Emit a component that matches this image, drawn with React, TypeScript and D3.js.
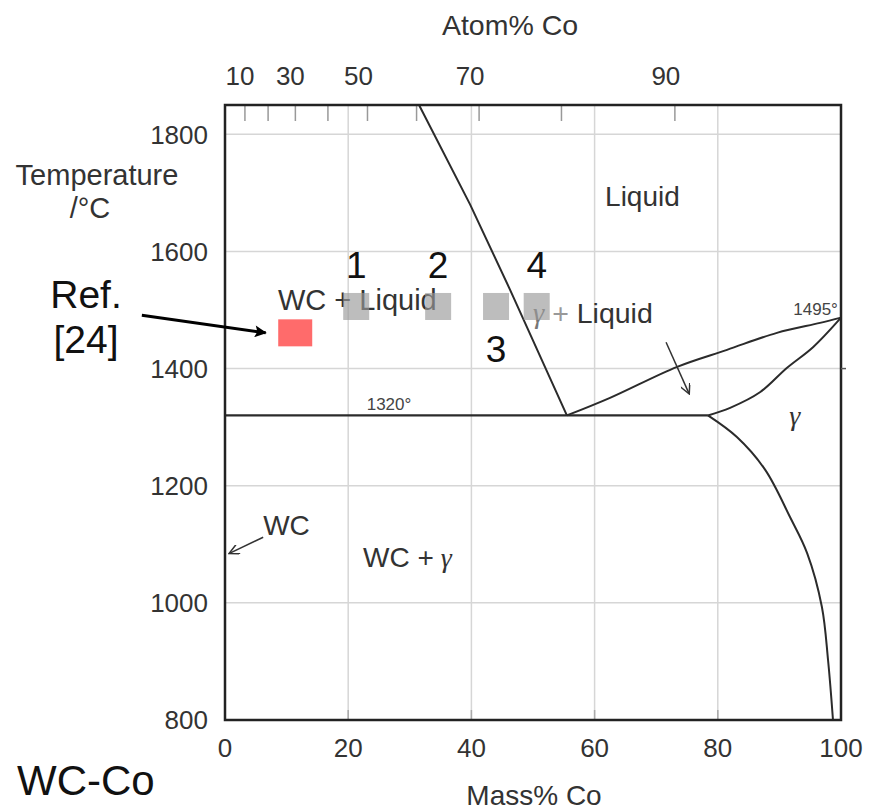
import React from 'react';
import * as d3 from 'd3';

// WC-Co phase diagram (mass% Co vs temperature)
const W = 870;
const H = 810;
const M_CO = 58.933;
const M_WC = 195.85;

const massTicks = [0, 20, 40, 60, 80, 100];
const tempTicks = [800, 1000, 1200, 1400, 1600, 1800];
const atomTicks = [10, 20, 30, 40, 50, 60, 70, 80, 90];
const atomLabels = [10, 30, 50, 70, 90];

// phase boundaries [mass% Co, °C]
const liquidusWC: [number, number][] = [[31.5, 1850], [39.8, 1680], [46.3, 1534], [55.5, 1320]];
const liquidusCo: [number, number][] = [[55.5, 1320], [62.5, 1350], [73.4, 1403], [81.5, 1432], [89.6, 1461], [96.6, 1478], [100, 1487]];
const solidus: [number, number][] = [[78.4, 1320], [82.0, 1333], [86.9, 1360], [91.2, 1401], [95.5, 1437], [100, 1487]];
const solvus: [number, number][] = [[78.4, 1320], [83.1, 1283], [87.7, 1227], [91.7, 1147], [94.5, 1085], [96.9, 993], [97.9, 902], [98.7, 800]];
const eutectic: [number, number][] = [[0, 1320], [78.4, 1320]];

// tested compositions
const sampleIds = ['1', '2', '3', '4'];
const sampleCo = [21.3, 34.6, 44.0, 50.6];
const sampleT = [1506, 1506, 1506, 1506];
const refCo = 11.4;
const refT = 1461;

const atomToMass = (a: number) => (a * M_CO) / (a * M_CO + (100 - a) * M_WC) * 100;

export default function App() {
  const x = d3.scaleLinear().domain([0, 100]).range([225, 841]);
  const y = d3.scaleLinear().domain([800, 1850]).range([720, 105]);

  const straight = d3.line<[number, number]>().x(d => x(d[0])).y(d => y(d[1]));
  const smooth = d3.line<[number, number]>().x(d => x(d[0])).y(d => y(d[1])).curve(d3.curveCatmullRom.alpha(0.5));

  const sans = 'Liberation Sans, Arial, sans-serif';
  const serif = 'Liberation Serif, Times New Roman, serif';
  const lineCol = '#2b2b2b';
  const textCol = '#333';

  return (
    <svg width={W} height={H} style={{ position: 'absolute', left: 0, top: 0, background: '#fff' }}>
      <defs>
        <marker id="solid" viewBox="0 0 10 10" refX="9" refY="5" markerWidth="14" markerHeight="12"
          markerUnits="userSpaceOnUse" orient="auto">
          <path d="M0,0 L10,5 L0,10 L2,5 z" fill="#000" />
        </marker>
        <marker id="open" viewBox="0 0 10 10" refX="9" refY="5" markerWidth="12" markerHeight="10"
          markerUnits="userSpaceOnUse" orient="auto">
          <path d="M0,0 L10,5 L0,10" fill="none" stroke="#333" strokeWidth={1.5} />
        </marker>
      </defs>

      {/* grid */}
      {massTicks.filter(t => t > 0 && t < 100).map(t => (
        <line key={'gx' + t} x1={x(t)} x2={x(t)} y1={y(1850)} y2={y(800)} stroke="#d6d6d6" strokeWidth={1.5} />
      ))}
      {massTicks.filter(t => t > 0 && t < 100).map(t => (
        <line key={'tx' + t} x1={x(t)} x2={x(t)} y1={y(800) - 10} y2={y(800)} stroke="#aaa" strokeWidth={1.5} />
      ))}
      {tempTicks.filter(t => t > 800).map(t => (
        <line key={'gy' + t} x1={x(0)} x2={x(100)} y1={y(t)} y2={y(t)} stroke="#d6d6d6" strokeWidth={1.5} />
      ))}

      {/* atom% ticks on top */}
      {atomTicks.map(a => (
        <line key={'at' + a} x1={x(atomToMass(a))} x2={x(atomToMass(a))} y1={y(1850)} y2={y(1850) + 16}
          stroke="#999" strokeWidth={1.5} />
      ))}

      {/* phase boundaries */}
      <path d={straight(liquidusWC) || ''} fill="none" stroke={lineCol} strokeWidth={2} />
      <path d={smooth(liquidusCo) || ''} fill="none" stroke={lineCol} strokeWidth={2} />
      <path d={smooth(solidus) || ''} fill="none" stroke={lineCol} strokeWidth={2} />
      <path d={smooth(solvus) || ''} fill="none" stroke={lineCol} strokeWidth={2} />
      <path d={straight(eutectic) || ''} fill="none" stroke={lineCol} strokeWidth={2.2} />

      {/* frame */}
      <rect x={x(0)} y={y(1850)} width={x(100) - x(0)} height={y(800) - y(1850)} fill="none" stroke="#222" strokeWidth={2.5} />
      <line x1={x(100)} x2={x(100) + 5} y1={y(1400)} y2={y(1400)} stroke="#555" strokeWidth={1.5} />

      {/* axis labels */}
      {tempTicks.map(t => (
        <text key={'ly' + t} x={208} y={y(t)} dy="0.36em" textAnchor="end" fontFamily={sans} fontSize={26} fill={textCol}>{t}</text>
      ))}
      {massTicks.map(t => (
        <text key={'lx' + t} x={x(t)} y={757} textAnchor="middle" fontFamily={sans} fontSize={26} fill={textCol}>{t}</text>
      ))}
      {atomLabels.map(a => (
        <text key={'la' + a} x={x(atomToMass(a)) - 5 - (a >= 50 ? 4 : 0)} y={85} textAnchor="middle" fontFamily={sans} fontSize={26} fill={textCol}>{a}</text>
      ))}
      <text x={510} y={35} textAnchor="middle" fontFamily={sans} fontSize={28.5} fill={textCol}>Atom% Co</text>
      <text x={534} y={805} textAnchor="middle" fontFamily={sans} fontSize={28} fill={textCol}>Mass% Co</text>
      <text x={97} y={185} textAnchor="middle" fontFamily={sans} fontSize={29} fill={textCol}>Temperature</text>
      <text x={90} y={218} textAnchor="middle" fontFamily={sans} fontSize={29} fill={textCol}>/°C</text>
      <text x={17} y={795} fontFamily={sans} fontSize={42} fill="#111">WC-Co</text>

      {/* region labels */}
      <text x={x(61.7)} y={y(1678)} fontFamily={sans} fontSize={28} fill={textCol}>Liquid</text>
      <text x={x(8.6)} y={y(1500)} fontFamily={sans} fontSize={29} fill={textCol}>WC + Liquid</text>
      <text x={x(50.0)} y={y(1478)} fontFamily={sans} fontSize={28.5} fill={textCol}>
        <tspan fontFamily={serif} fontStyle="italic" fill="#777">γ</tspan>
        <tspan fill="#999"> + </tspan>
        <tspan>Liquid</tspan>
      </text>
      <text x={x(91.6)} y={y(1304)} fontFamily={serif} fontStyle="italic" fontSize={28} fill={textCol}>γ</text>
      <text x={x(22.4)} y={y(1061)} fontFamily={sans} fontSize={28} fill={textCol}>
        WC +<tspan fontFamily={serif} fontStyle="italic"> γ</tspan>
      </text>
      <text x={x(6.2)} y={y(1116)} fontFamily={sans} fontSize={28} fill={textCol}>WC</text>
      <text x={x(99.5)} y={y(1491)} textAnchor="end" fontFamily={sans} fontSize={17} fill="#444">1495°</text>
      <text x={x(23)} y={y(1329)} fontFamily={sans} fontSize={17} fill="#444">1320°</text>

      {/* annotation arrows */}
      <line x1={x(71.6)} y1={y(1445)} x2={x(75.3)} y2={y(1358)} stroke="#333" strokeWidth={1.5} markerEnd="url(#open)" />
      <line x1={x(6.2)} y1={y(1112)} x2={x(0.8)} y2={y(1085)} stroke="#333" strokeWidth={1.5} markerEnd="url(#open)" />

      {/* samples */}
      {sampleIds.map((id, i) => (
        <rect key={'s' + id} x={x(sampleCo[i]) - 13} y={y(sampleT[i]) - 13.5} width={26} height={27} fill="#999" opacity={0.65} />
      ))}
      {sampleIds.map((id, i) => (
        <text key={'sl' + id} x={x(sampleCo[i])} y={id === '3' ? y(sampleT[i]) + 56 : y(sampleT[i]) - 28}
          textAnchor="middle" fontFamily={sans} fontSize={37} fill="#111">{id}</text>
      ))}
      <rect x={x(refCo) - 17} y={y(refT) - 13.5} width={34} height={27} fill="#ff6b6b" />
      <text x={86} y={308} textAnchor="middle" fontFamily={sans} fontSize={39} fill="#111">Ref.</text>
      <text x={86} y={353} textAnchor="middle" fontFamily={sans} fontSize={39} fill="#111">[24]</text>
      <line x1={x(-13.5)} y1={y(1491)} x2={x(6.6)} y2={y(1461)} stroke="#000" strokeWidth={3} markerEnd="url(#solid)" />
    </svg>
  );
}
